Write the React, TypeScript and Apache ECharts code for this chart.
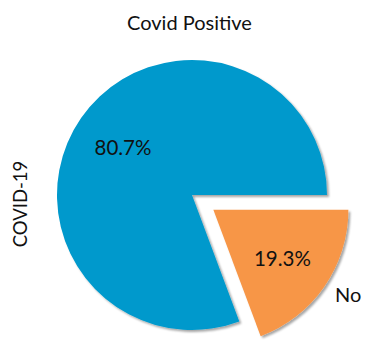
import React, { useEffect, useRef } from "react";
import * as echarts from "echarts";

const categories = ["", "No"];
const values = [80.7, 19.3];
const colors = ["#0099cc", "#f79646"];
const titleText = "Covid Positive";
const yLabel = "COVID-19";

const FONT = "Lato, 'Open Sans', sans-serif";

export default function App() {
  const ref = useRef<HTMLDivElement>(null);
  useEffect(() => {
    if (!ref.current) return;
    const chart = echarts.init(ref.current, undefined, { renderer: "svg" });
    const center = [192, 195];
    const R = 135;
    const offset = 26;
    const shadow = {
      shadowColor: "rgba(0,0,0,0.35)",
      shadowOffsetX: 2,
      shadowOffsetY: 2,
      shadowBlur: 2,
    };
    const mainData = categories.map((c, i) => ({
      name: c,
      value: values[i],
      selected: i === 1,
      itemStyle: { color: colors[i], ...shadow },
      label: { show: c !== "" },
    }));
    const labelData = categories.map((c, i) => ({
      name: c + "_p",
      value: values[i],
      selected: i === 1,
    }));
    chart.setOption({
      animation: false,
      title: {
        text: titleText,
        left: "center",
        top: 7,
        textStyle: { fontFamily: FONT, fontWeight: "normal", fontSize: 20, color: "#111" },
      },
      graphic: [
        {
          type: "text",
          x: 20,
          y: 204,
          rotation: Math.PI / 2,
          style: {
            text: yLabel,
            font: `18.5px ${FONT}`,
            fill: "#111",
            textAlign: "center",
            textVerticalAlign: "middle",
          },
        },
      ],
      series: [
        {
          type: "pie",
          center,
          radius: [0, R],
          startAngle: 0,
          clockwise: false,
          selectedMode: "single",
          selectedOffset: offset,
          avoidLabelOverlap: false,
          silent: true,
          data: mainData,
          label: {
            position: "outside",
            formatter: "{b}",
            fontFamily: FONT,
            fontSize: 20,
            color: "#111",
            distanceToLabelLine: 0,
          },
          labelLine: { show: false, length: 13, length2: 0 },
        },
        {
          type: "pie",
          center,
          radius: [R * 0.2, R],
          startAngle: 0,
          clockwise: false,
          selectedMode: "single",
          selectedOffset: offset,
          avoidLabelOverlap: false,
          silent: true,
          data: labelData,
          itemStyle: { color: "rgba(0,0,0,0)" },
          label: {
            position: "inside",
            formatter: (p: any) => p.value.toFixed(1) + "%",
            fontFamily: FONT,
            fontSize: 20.5,
            color: "#111",
          },
          labelLine: { show: false },
        },
      ],
    });
    return () => chart.dispose();
  }, []);
  return (
    <div
      ref={ref}
      style={{ position: "fixed", left: 0, top: 0, width: 379, height: 354, background: "#fff" }}
    />
  );
}
